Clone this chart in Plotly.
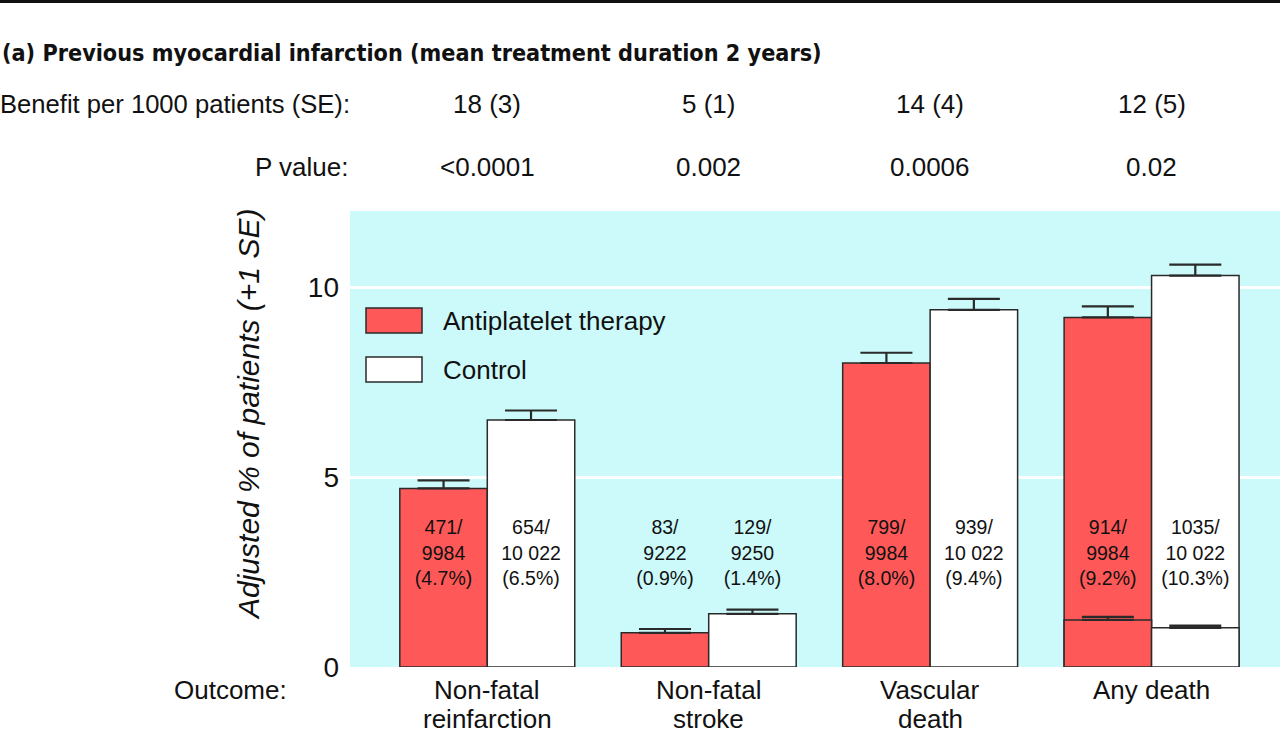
import plotly.graph_objects as go

# ---------------- data ----------------
categories = ["Non-fatal<br>reinfarction", "Non-fatal<br>stroke", "Vascular<br>death", "Any death"]
benefit = ["18 (3)", "5 (1)", "14 (4)", "12 (5)"]
p_values = ["<0.0001", "0.002", "0.0006", "0.02"]
y_ticks = [0, 5, 10]

antiplatelet_pct = [4.7, 0.9, 8.0, 9.2]
antiplatelet_se = [0.21, 0.1, 0.27, 0.29]
control_pct = [6.5, 1.4, 9.4, 10.3]
control_se = [0.25, 0.11, 0.29, 0.29]

antiplatelet_events = ["471", "83", "799", "914"]
antiplatelet_n = ["9984", "9222", "9984", "9984"]
control_events = ["654", "129", "939", "1035"]
control_n = ["10 022", "9250", "10 022", "10 022"]
antiplatelet_label_pct = ["4.7", "0.9", "8.0", "9.2"]
control_label_pct = ["6.5", "1.4", "9.4", "10.3"]

# non-vascular death component of "Any death"
nonvasc_antiplatelet = [None, None, None, 1.24]
nonvasc_antiplatelet_se = [0, 0, 0, 0.08]
nonvasc_control = [None, None, None, 1.03]
nonvasc_control_se = [0, 0, 0, 0.06]

label_y = 2.95

# ---------------- styles ----------------
FONT = "Liberation Sans, Arial, sans-serif"
BOLD_FONT = "DejaVu Sans Condensed, Liberation Sans, sans-serif"
TXT = "#111111"
RED = "#ff5858"
CYAN = "#ccfafa"
EDGE = "#2a2a2a"
BW = 0.395

W, H = 1280, 733
L, R, T, B = 350, 0, 211, 66
PW, PH = W - L - R, H - T - B


def px(xp):
    return (xp - L) / PW


def py(yp):
    return (H - B - yp) / PH


xs = list(range(len(categories)))

fig = go.Figure()


def bar(y, se, offset, color):
    return go.Bar(
        x=xs, y=y, offset=offset, width=BW,
        marker=dict(color=color, line=dict(color=EDGE, width=1.5)),
        error_y=dict(type="data", array=se, arrayminus=[0] * len(xs), symmetric=False,
                     color=EDGE, thickness=2.2, width=26),
        showlegend=False, hoverinfo="y")


fig.add_trace(bar(antiplatelet_pct, antiplatelet_se, -BW, RED))
fig.add_trace(bar(control_pct, control_se, 0, "white"))
fig.add_trace(bar(nonvasc_antiplatelet, nonvasc_antiplatelet_se, -BW, RED))
fig.add_trace(bar(nonvasc_control, nonvasc_control_se, 0, "white"))

# in-bar count labels
fig.add_trace(go.Scatter(
    x=[x - BW / 2 for x in xs], y=[label_y] * len(xs), mode="text",
    text=[f"{e}/<br>{n}<br>({p}%)" for e, n, p in zip(antiplatelet_events, antiplatelet_n, antiplatelet_label_pct)],
    textfont=dict(family=FONT, size=19.5, color=TXT), showlegend=False, hoverinfo="skip"))
fig.add_trace(go.Scatter(
    x=[x + BW / 2 for x in xs], y=[label_y] * len(xs), mode="text",
    text=[f"{e}/<br>{n}<br>({p}%)" for e, n, p in zip(control_events, control_n, control_label_pct)],
    textfont=dict(family=FONT, size=19.5, color=TXT), showlegend=False, hoverinfo="skip"))

ann = []


def note(text, x, y, xanchor="center", xref="paper", size=26, family=FONT, **kw):
    ann.append(dict(text=text, xref=xref, yref="paper", x=x, y=y, xanchor=xanchor,
                    yanchor="middle", showarrow=False,
                    font=dict(family=family, size=size, color=TXT), **kw))


note("<b>(a) Previous myocardial infarction (mean treatment duration 2 years)</b>",
     px(0), py(52), xanchor="left", size=23.2, family=BOLD_FONT)
note("Benefit per 1000 patients (SE):", px(-2), py(104), xanchor="left", size=25.6)
note("P value:", px(350), py(167), xanchor="right")
note("Outcome:", px(172), py(690), xanchor="left")
for i, (b, p) in enumerate(zip(benefit, p_values)):
    note(b, i, py(104), xref="x")
    note(p, i, py(167), xref="x")
# category labels (one annotation per line, tight line spacing)
for i, cat in enumerate(categories):
    for j, line in enumerate(cat.split("<br>")):
        note(line, i, py(690 + 29 * j), xref="x")
note("<i>Adjusted % of patients (+1 SE)</i>", px(248), py(415), size=30, textangle=-90)
# legend text
note("Antiplatelet therapy", px(441), py(321), xanchor="left")
note("Control", px(441), py(370), xanchor="left")

shapes = [
    dict(type="line", xref="paper", yref="paper", x0=px(0), x1=px(W), y0=py(1.5), y1=py(1.5),
         line=dict(color=TXT, width=3)),
    dict(type="rect", xref="paper", yref="paper", x0=px(366), x1=px(422), y0=py(333), y1=py(308),
         fillcolor=RED, line=dict(color=EDGE, width=1.5)),
    dict(type="rect", xref="paper", yref="paper", x0=px(366), x1=px(422), y0=py(382), y1=py(357),
         fillcolor="white", line=dict(color=EDGE, width=1.5)),
]

fig.update_layout(
    width=W, height=H, margin=dict(l=L, r=R, t=T, b=B, autoexpand=False),
    paper_bgcolor="white", plot_bgcolor=CYAN, barmode="overlay",
    font=dict(family=FONT, color=TXT),
    annotations=ann, shapes=shapes,
    xaxis=dict(range=[-0.62, 3.58], tickvals=xs, showticklabels=False, showgrid=False,
               zeroline=False, showline=False, ticks=""),
    yaxis=dict(range=[0, 12], tickvals=y_ticks, showgrid=True, gridcolor="white", gridwidth=2.5,
               zeroline=False, showline=False, ticks="", ticklabelstandoff=10,
               tickfont=dict(family=FONT, size=28, color=TXT)),
)

fig.write_html("out.html", config={"displayModeBar": False},
               post_script="document.body.style.margin='0px';")
